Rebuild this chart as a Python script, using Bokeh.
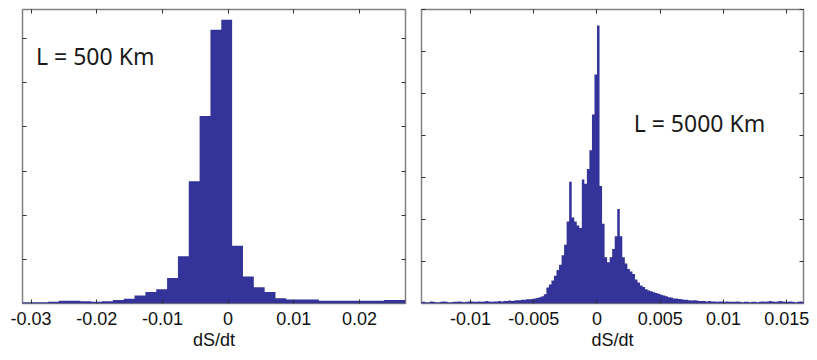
from bokeh.plotting import figure
from bokeh.layouts import row
from bokeh.models import LinearAxis, Label, FixedTicker, Range1d
from bokeh.embed import file_html
from bokeh.resources import INLINE

# ---------------- data ----------------
# Left panel: L = 500 Km  (36 bins)
left_bin_start = -0.03239
left_bin_width = 0.00165
left_counts = [0.03, 0.03, 0.03, 0.04, 0.06, 0.06, 0.05, 0.04, 0.05, 0.08,
               0.11, 0.18, 0.26, 0.32, 0.58, 1.07, 2.77, 4.25, 6.20, 6.43,
               1.31, 0.61, 0.37, 0.26, 0.12, 0.09, 0.09, 0.09, 0.06, 0.06,
               0.06, 0.06, 0.06, 0.06, 0.08, 0.08]
left_xticks = [-0.03, -0.02, -0.01, 0, 0.01, 0.02]
left_xlabels = ["-0.03", "-0.02", "-0.01", "0", "0.01", "0.02"]
left_title = "L = 500 Km"

# Right panel: L = 5000 Km  (152 bins)
right_bin_start = -0.014
right_bin_width = 0.0002
right_counts = (
    [0.03, 0.04, 0.03, 0.03, 0.05, 0.04, 0.03, 0.03, 0.04, 0.05,
     0.04, 0.03, 0.03, 0.04, 0.04, 0.05, 0.04, 0.03, 0.04, 0.05,
     0.05, 0.04, 0.04, 0.05, 0.04, 0.05, 0.06, 0.05, 0.04, 0.05,
     0.05, 0.06, 0.05, 0.06, 0.06, 0.07, 0.06, 0.07, 0.08, 0.08]
    + [0.09, 0.09, 0.10, 0.10, 0.11, 0.12, 0.13, 0.15, 0.17, 0.22]
    + [0.38, 0.45, 0.55, 0.66, 0.80, 0.92, 1.15, 1.40, 1.95, 2.90]
    + [2.05, 1.95, 1.86, 1.80, 2.95, 2.85, 3.20, 3.65, 4.50, 5.45]
    + [6.62, 2.80, 1.90, 1.10, 0.98, 1.10, 1.30, 1.60, 2.25, 1.60]
    + [1.10, 0.95, 0.82, 0.76, 0.70, 0.57, 0.50, 0.43, 0.39, 0.34]
    + [0.31, 0.29, 0.27, 0.25, 0.23, 0.21, 0.19, 0.17, 0.15, 0.14]
    + [0.12, 0.12, 0.11, 0.10, 0.09, 0.09, 0.08, 0.07, 0.08, 0.07, 0.06]
    + [0.06, 0.06, 0.05, 0.06, 0.05, 0.05, 0.04, 0.05, 0.05, 0.04,
       0.05, 0.04, 0.04, 0.04, 0.05, 0.04, 0.03, 0.04, 0.04, 0.03,
       0.04, 0.04, 0.03, 0.04, 0.05, 0.04, 0.05, 0.06, 0.05, 0.04,
       0.05, 0.06, 0.05, 0.04, 0.04, 0.05, 0.04, 0.03, 0.04, 0.05, 0.04]
)
right_xticks = [-0.01, -0.005, 0, 0.005, 0.01, 0.015]
right_xlabels = ["-0.01", "-0.005", "0", "0.005", "0.01", "0.015"]
right_title = "L = 5000 Km"

y_ticks = [1, 2, 3, 4, 5, 6, 7]
x_label = "dS/dt"

BAR = "#333399"
FRAME = "#808080"
TICK = "#333333"


def style_axis(ax, ticks, labels=None):
    ax.ticker = FixedTicker(ticks=ticks, minor_ticks=[])
    ax.axis_line_color = None
    ax.major_tick_in = 4
    ax.major_tick_out = 0
    ax.major_tick_line_color = TICK
    ax.minor_tick_line_color = None
    if labels is None:
        ax.major_label_overrides = {t: "" for t in ticks}
        ax.major_label_standoff = 0
        ax.major_label_text_font_size = "1px"
    else:
        ax.major_label_overrides = dict(zip(ticks, labels))
        ax.major_label_text_font = "Liberation Sans"
        ax.major_label_text_font_size = "18px"
        ax.major_label_text_color = "#111111"
        ax.major_label_standoff = 8


def make_panel(start, width, counts, xr, yr, xticks, xlabels, title, tx, ty,
               fw, mb_left, mb_right):
    p = figure(frame_width=fw, frame_height=294,
               x_range=Range1d(*xr), y_range=Range1d(*yr),
               output_backend="svg", toolbar_location=None,
               min_border_left=mb_left, min_border_right=mb_right,
               min_border_top=9, min_border_bottom=50)
    p.grid.visible = False
    p.outline_line_color = FRAME
    p.outline_line_width = 1.5
    p.background_fill_color = "white"
    p.border_fill_color = "white"

    # histogram drawn as one stepped filled area (bin edges -> counts)
    edges = [start + i * width for i in range(len(counts) + 1)]
    heights = list(counts) + [counts[-1]]
    p.varea_step(x=edges, y1=[0] * len(edges), y2=heights,
                 step_mode="after", fill_color=BAR)

    style_axis(p.xaxis[0], xticks, xlabels)
    p.xaxis[0].axis_label = x_label
    p.xaxis[0].axis_label_text_font = "Liberation Sans"
    p.xaxis[0].axis_label_text_font_style = "normal"
    p.xaxis[0].axis_label_text_font_size = "18px"
    p.xaxis[0].axis_label_text_color = "#111111"
    p.xaxis[0].axis_label_standoff = 2
    style_axis(p.yaxis[0], y_ticks)

    top_ax = LinearAxis()
    style_axis(top_ax, xticks)
    p.add_layout(top_ax, "above")
    right_ax = LinearAxis()
    style_axis(right_ax, y_ticks)
    p.add_layout(right_ax, "right")

    p.add_layout(Label(x=tx, y=ty, text=title, text_font="Noto Sans",
                       text_font_size="23px", text_color="#1a1a1a",
                       text_baseline="middle", text_align="left"))
    return p


p1 = make_panel(left_bin_start, left_bin_width, left_counts,
                (-0.0313, 0.027), (0, 6.66), left_xticks, left_xlabels,
                left_title, -0.02924, 5.61, 383, 22, 8)
p2 = make_panel(right_bin_start, right_bin_width, right_counts,
                (-0.01387, 0.01632), (0, 7.0), right_xticks, right_xlabels,
                right_title, 0.0029, 4.29, 382, 8, 6)

layout = row(p1, p2)
open("out.html", "w").write(file_html(layout, INLINE))
